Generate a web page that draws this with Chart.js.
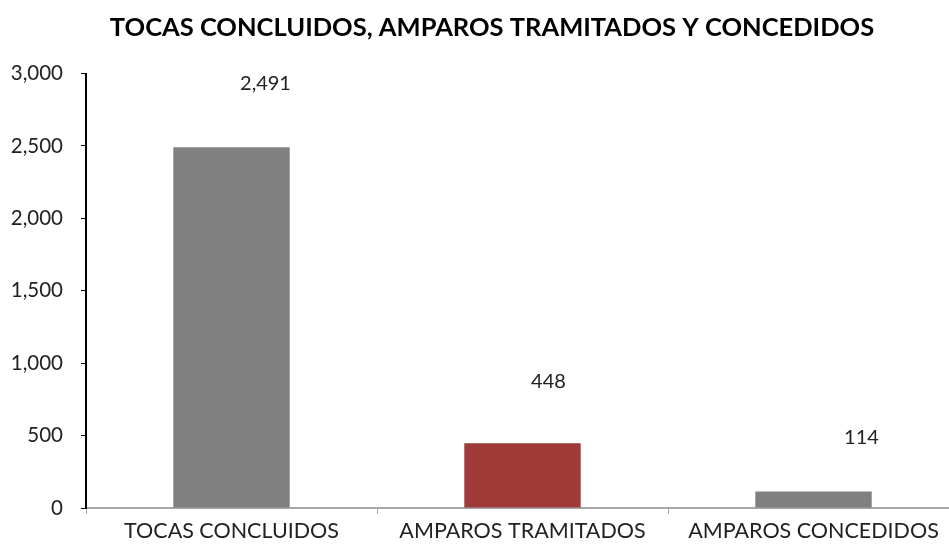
<!DOCTYPE html>
<html>
<head>
<meta charset="utf-8">
<script src="https://cdn.jsdelivr.net/npm/chart.js@4/dist/chart.umd.min.js"></script>
<style>
  html, body { margin: 0; padding: 0; background: #fff; overflow: hidden; }
  #wrap { width: 984px; height: 546px; }
</style>
</head>
<body>
<div id="wrap"><canvas id="chart"></canvas></div>
<script>
// Datos
const categories = ['TOCAS CONCLUIDOS', 'AMPAROS TRAMITADOS', 'AMPAROS CONCEDIDOS'];
const values = [2491, 448, 114];
const yTicks = [0, 500, 1000, 1500, 2000, 2500, 3000];

const barColors = ['#808080', '#9E3B39', '#808080'];
const FONT = 'Lato, "DejaVu Sans", sans-serif';

// Desplazamiento de las etiquetas de valor respecto a la barra (como en el original)
const labelShiftX = [34, 26, 48];
const labelShiftY = [64, 62, 54];

const valueLabels = {
    id: 'valueLabels',
    afterLayout(chart) {
        // el título se centra en todo el lienzo, no solo hasta el padding derecho
        if (chart.titleBlock) {
            chart.titleBlock.left = 0;
            chart.titleBlock.right = chart.width;
        }
    },
    afterDatasetsDraw(chart) {
        const ctx = chart.ctx;
        const meta = chart.getDatasetMeta(0);
        ctx.save();
        ctx.font = '20px ' + FONT;
        ctx.fillStyle = '#222';
        ctx.textAlign = 'center';
        ctx.textBaseline = 'middle';
        meta.data.forEach((bar, i) => {
            ctx.fillText(values[i].toLocaleString('en-US'), bar.x + labelShiftX[i], bar.y - labelShiftY[i]);
        });
        ctx.restore();
    }
};

new Chart(document.getElementById('chart'), {
    type: 'bar',
    data: {
        labels: categories,
        datasets: [{
            data: values,
            backgroundColor: barColors,
            borderWidth: 0,
            categoryPercentage: 1,
            barPercentage: 0.4
        }]
    },
    options: {
        responsive: true,
        maintainAspectRatio: false,
        animation: false,
        layout: { padding: { left: 0, right: 25, top: 0, bottom: 0 } },
        plugins: {
            legend: { display: false },
            tooltip: { enabled: false },
            title: {
                display: true,
                text: 'TOCAS CONCLUIDOS, AMPAROS TRAMITADOS Y CONCEDIDOS',
                color: '#000',
                font: { family: FONT, size: 25.5, weight: 'bold', lineHeight: 1.2 },
                padding: { top: 12, bottom: 31 }
            }
        },
        scales: {
            x: {
                offset: true,
                border: { display: true, color: '#a6a6a6', width: 2 },
                grid: { display: true, drawOnChartArea: false, drawTicks: true, tickLength: 6, color: '#a6a6a6', offset: true },
                ticks: { color: '#222', font: { family: FONT, size: 21.5 }, padding: 4, maxRotation: 0 },
                afterFit(scale) { scale.height = 38; }
            },
            y: {
                min: 0,
                max: 3000,
                afterBuildTicks(scale) { scale.ticks = yTicks.map(v => ({ value: v })); },
                border: { display: true, color: '#000', width: 2 },
                grid: { display: true, drawOnChartArea: false, drawTicks: true, tickLength: 5, color: '#000' },
                ticks: {
                    color: '#222',
                    font: { family: FONT, size: 20.5 },
                    padding: 18,
                    callback: v => v.toLocaleString('en-US')
                },
                afterFit(scale) { scale.width = 86; }
            }
        }
    },
    plugins: [valueLabels]
});
</script>
</body>
</html>
